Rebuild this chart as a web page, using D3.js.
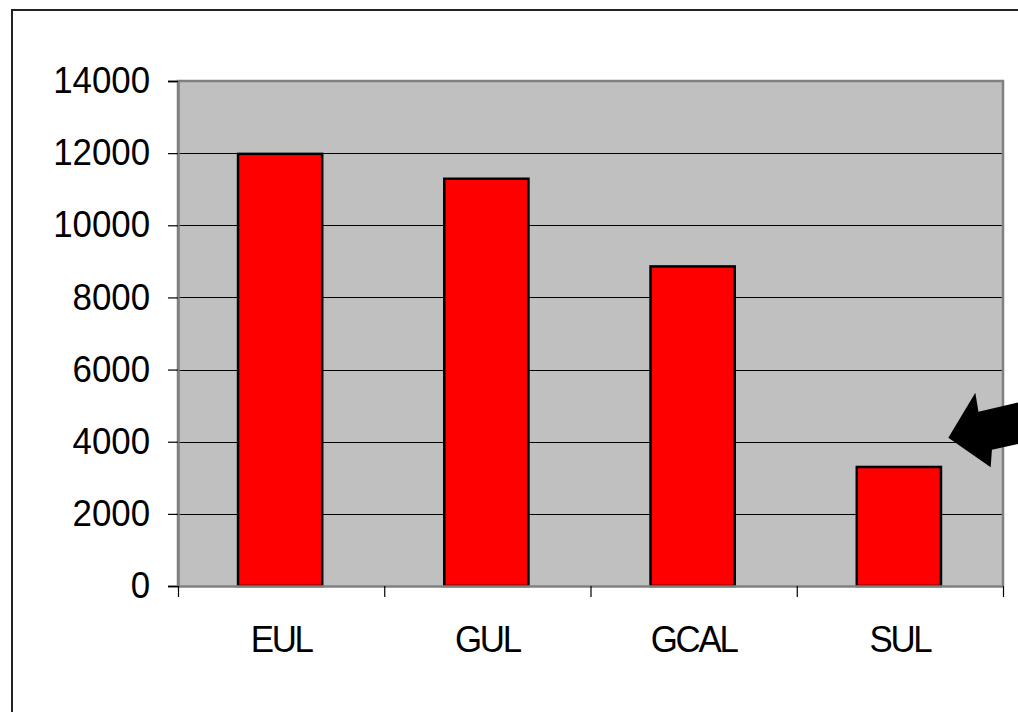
<!DOCTYPE html>
<html><head><meta charset="utf-8">
<script src="https://cdn.jsdelivr.net/npm/d3@7"></script>
<style>body{margin:0;background:#fff;}svg{display:block;}</style>
</head><body>
<script>
const categories = ["EUL", "GUL", "GCAL", "SUL"];
const values = [11980, 11290, 8860, 3300];
const yTicks = [0, 2000, 4000, 6000, 8000, 10000, 12000, 14000];

const W = 1018, H = 712;
const m = {left: 178, top: 81, right: 1003, bottom: 586};
const FONT = "Liberation Sans, Arial, sans-serif";
const FS = 37.5, SX = 0.93;
const svg = d3.select("body").append("svg").attr("width", W).attr("height", H);

// outer frame
svg.append("rect").attr("x", 12).attr("y", 10).attr("width", W + 20).attr("height", H + 20)
  .attr("fill", "#fff").attr("stroke", "#222").attr("stroke-width", 2);

const x = d3.scaleBand().domain(categories).range([m.left, m.right]).padding(0);
const y = d3.scaleLinear().domain([0, 14000]).range([m.bottom, m.top]);

// plot background
svg.append("rect").attr("x", m.left).attr("y", m.top).attr("width", m.right - m.left)
  .attr("height", m.bottom - m.top).attr("fill", "#c0c0c0");

// gridlines
svg.append("g").selectAll("line").data(yTicks.filter(d => d > 0 && d < 14000)).join("line")
  .attr("x1", m.left).attr("x2", m.right).attr("y1", d => Math.round(y(d)) + 0.5).attr("y2", d => Math.round(y(d)) + 0.5)
  .attr("stroke", "#000").attr("stroke-width", 1);

// plot border (top, right, left)
svg.append("path").attr("d", `M${m.left},${m.bottom}V${m.top}H${m.right}V${m.bottom}`)
  .attr("fill", "none").attr("stroke", "#808080").attr("stroke-width", 2.5);

// bars
const bw = x.bandwidth() / 2.45;
svg.append("g").selectAll("rect").data(values).join("rect")
  .attr("x", (d, i) => x(categories[i]) + x.bandwidth() / 2 - bw / 2 - 1)
  .attr("y", d => y(d))
  .attr("width", bw).attr("height", d => y(0) - y(d))
  .attr("fill", "#ff0000").attr("stroke", "#000").attr("stroke-width", 2.5);

// y axis
const yAxis = svg.append("g").attr("transform", `translate(${m.left},0)`)
  .call(d3.axisLeft(y).tickValues(yTicks).tickSize(10).tickPadding(20).tickFormat(d3.format("d")));
yAxis.select(".domain").attr("stroke", "#808080").attr("stroke-width", 2.5);
yAxis.selectAll(".tick line").attr("stroke", "#000").attr("stroke-width", 1.2);
yAxis.selectAll(".tick text").attr("font-family", FONT).attr("font-size", FS).attr("fill", "#000")
  .attr("transform", `scale(${SX},1)`).attr("dy", "0.31em");

// x axis
const xAxis = svg.append("g").attr("transform", `translate(0,${m.bottom})`)
  .call(d3.axisBottom(x).tickSize(0).tickPadding(39));
xAxis.select(".domain").attr("stroke", "#808080").attr("stroke-width", 2.5);
xAxis.selectAll(".tick text").attr("font-family", FONT).attr("font-size", FS).attr("fill", "#000")
  .attr("letter-spacing", -2.5).attr("transform", `scale(${SX},1)`).attr("dx", 0);
// category boundary ticks
const bounds = categories.map(c => x(c)).concat([m.right]);
svg.append("g").selectAll("line").data(bounds).join("line")
  .attr("x1", d => d + 0.5).attr("x2", d => d + 0.5).attr("y1", m.bottom).attr("y2", m.bottom + 11)
  .attr("stroke", "#000").attr("stroke-width", 1.2);

// arrow annotation pointing at the SUL bar
const tipX = x("SUL") + x.bandwidth() * 0.735, tipY = y(4000) - 4;
const ang = Math.atan2(-0.22, 1);
const ca = Math.cos(ang), sa = Math.sin(ang);
function pt(u, v) { return [tipX + u * ca - v * sa, tipY + u * sa + v * ca]; }
const pts = [pt(0, 0), pt(36, -38), pt(35, -19), pt(140, -20), pt(140, 21), pt(40, 21), pt(35, 38)];
svg.append("path").attr("d", "M" + pts.map(p => p.join(",")).join("L") + "Z").attr("fill", "#000");
</script>
</body></html>
